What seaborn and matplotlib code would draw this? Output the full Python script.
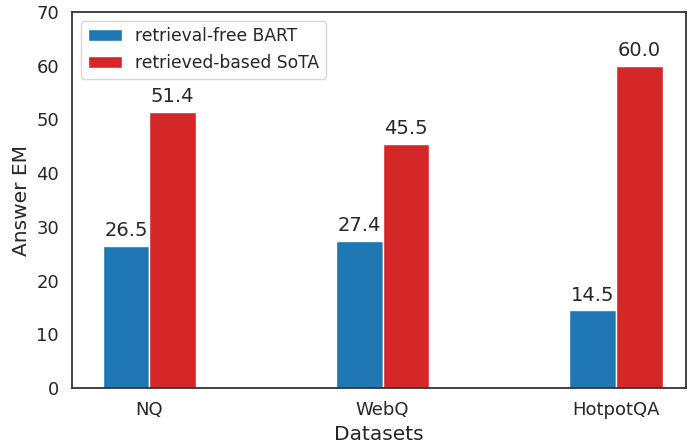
import pandas as pd
import matplotlib
matplotlib.use('Agg')
import matplotlib.pyplot as plt
import seaborn as sns

datasets = ['NQ', 'WebQ', 'HotpotQA']
bart_em = [26.5, 27.4, 14.5]
sota_em = [51.4, 45.5, 60.0]
series = ['retrieval-free BART', 'retrieved-based SoTA']
colors = ['#1f77b4', '#d62728']

df = pd.DataFrame({
    'Datasets': datasets * 2,
    'Answer EM': bart_em + sota_em,
    'model': [series[0]] * 3 + [series[1]] * 3,
})

sns.set_theme(style='white', font_scale=1.1)
plt.rcParams['font.family'] = ['DejaVu Sans']

fig, ax = plt.subplots(figsize=(6.88, 4.46), dpi=100)
sns.barplot(data=df, x='Datasets', y='Answer EM', hue='model',
            palette=colors, width=0.4, edgecolor='white', linewidth=1,
            saturation=1, ax=ax)

for c in ax.containers:
    ax.bar_label(c, fmt='%.1f', padding=4, fontsize=14)

ax.set_ylim(0, 70)
ax.set_xlim(-0.33, 2.3)
ax.set_xlabel('Datasets', fontsize=14.5)
ax.set_ylabel('Answer EM', fontsize=14.5)
ax.tick_params(labelsize=13)
for s in ax.spines.values():
    s.set_color('#333333')
    s.set_linewidth(1.3)
ax.legend(title=None, loc='upper left', fontsize=12.3)

fig.subplots_adjust(left=0.105, right=0.997, top=0.973, bottom=0.13)
fig.savefig('out.png', dpi=100)
